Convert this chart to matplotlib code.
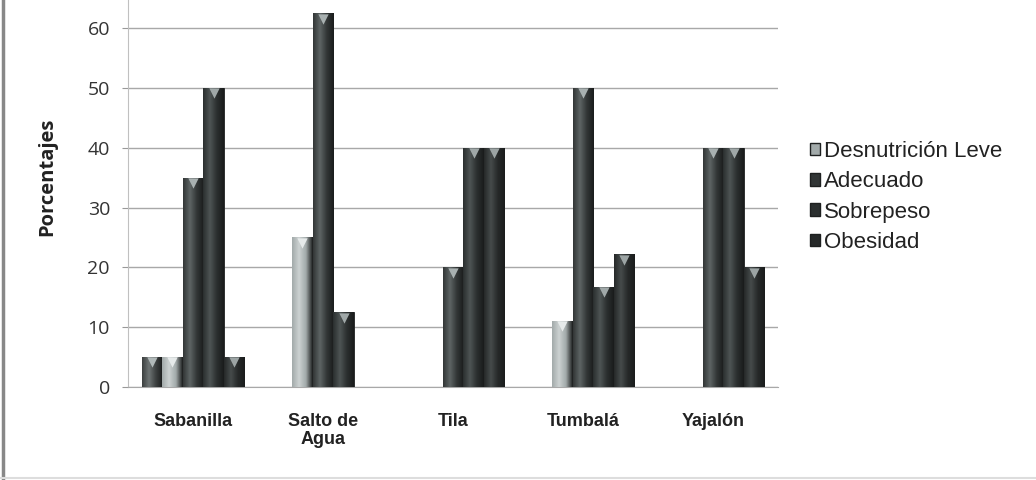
import numpy as np
import matplotlib
matplotlib.use("Agg")
import matplotlib.pyplot as plt
from matplotlib.patches import Patch
from matplotlib.colors import LinearSegmentedColormap

categories = ["Sabanilla", "Salto de\nAgua", "Tila", "Tumbalá", "Yajalón"]
series_names = ["Desnutrición Moderada", "Desnutrición Leve", "Adecuado", "Sobrepeso", "Obesidad"]
moderada = [5, 0, 0, 0, 0]
leve = [5, 25, 0, 11.1, 0]
adecuado = [35, 62.5, 20, 50, 40]
sobrepeso = [50, 12.5, 40, 16.7, 40]
obesidad = [5, 0, 40, 22.2, 20]
series_values = [moderada, leve, adecuado, sobrepeso, obesidad]
legend_series = ["Desnutrición Leve", "Adecuado", "Sobrepeso", "Obesidad"]
yticks = [0, 10, 20, 30, 40, 50, 60]

base_colors = ["#3c4040", "#a2aaaa", "#323636", "#2b2f2f", "#262929"]
light_colors = ["#6e7474", "#ccd2d2", "#5d6464", "#4e5454", "#464b4b"]
cap_colors = ["#b0b8b8", "#e6eaea", "#a8b0b0", "#a0a8a8", "#9ca4a4"]

fig = plt.figure(figsize=(10.36, 4.8), dpi=100)
ax = fig.add_axes([128/1036, 93/480, 650/1036, 387/480])

n = len(series_values)
w = 0.158
x = np.arange(len(categories))
for i, (vals, name) in enumerate(zip(series_values, series_names)):
    pos = x + (i - (n - 1) / 2) * w
    bars = ax.bar(pos, vals, width=w, color=base_colors[i], edgecolor="#1e2020",
                  linewidth=0.6, label=name, zorder=3)
    cmap = LinearSegmentedColormap.from_list(
        "cyl", [base_colors[i], light_colors[i], base_colors[i], "#1a1c1c"])
    grad = np.linspace(0, 1, 64).reshape(1, -1)
    for b, v in zip(bars, vals):
        if v <= 0:
            continue
        im = ax.imshow(grad, cmap=cmap, aspect="auto", zorder=3.5,
                       extent=[b.get_x(), b.get_x() + b.get_width(), 0, v])
        im.set_clip_path(b)
        ax.scatter([b.get_x() + b.get_width() / 2], [v - 0.9], marker="v", s=55,
                   color=cap_colors[i], zorder=4, linewidths=0)

ax.set_xlim(-0.5, len(categories) - 0.5)
ax.set_ylim(0, 64.7)
ax.set_yticks(yticks)
ax.set_yticklabels([str(t) for t in yticks], fontsize=14, family="Open Sans", color="#333333")
ax.set_xticks(x)
ax.set_xticklabels(categories, fontsize=13, family="Liberation Sans", fontweight="bold",
                   color="#222222", linespacing=1.05)
ax.tick_params(axis="x", length=0, pad=19)
ax.tick_params(axis="y", length=4, color="#999999", pad=9)
ax.grid(axis="y", color="#a8a8a8", linewidth=1.0, zorder=0)
for s in ["top", "right"]:
    ax.spines[s].set_visible(False)
ax.spines["left"].set_color("#c0c0c0")
ax.spines["bottom"].set_color("#a8a8a8")
ax.set_ylabel("Porcentajes", fontsize=14.5, family="Open Sans", fontweight="bold",
              color="#222222")
ax.yaxis.set_label_coords(-(128 - 57) / 650, (387 - 177) / 387)

handles = [Patch(facecolor=base_colors[series_names.index(nm)], edgecolor="#1e2020") for nm in legend_series]
leg = fig.legend(handles, legend_series, loc="center left", bbox_to_anchor=(790/1036, 1 - 197/480),
                 frameon=False, prop={"family": "Liberation Sans", "size": 16},
                 handlelength=0.45, handleheight=0.5, handletextpad=0.2, labelspacing=0.42)
for t in leg.get_texts():
    t.set_color("#222222")

fig.add_artist(plt.Line2D([3/1036, 3/1036], [0, 1], color="#888888", linewidth=2.5))
fig.add_artist(plt.Line2D([0, 1], [2/480, 2/480], color="#dddddd", linewidth=1.5))

fig.savefig("out.png", dpi=100)
